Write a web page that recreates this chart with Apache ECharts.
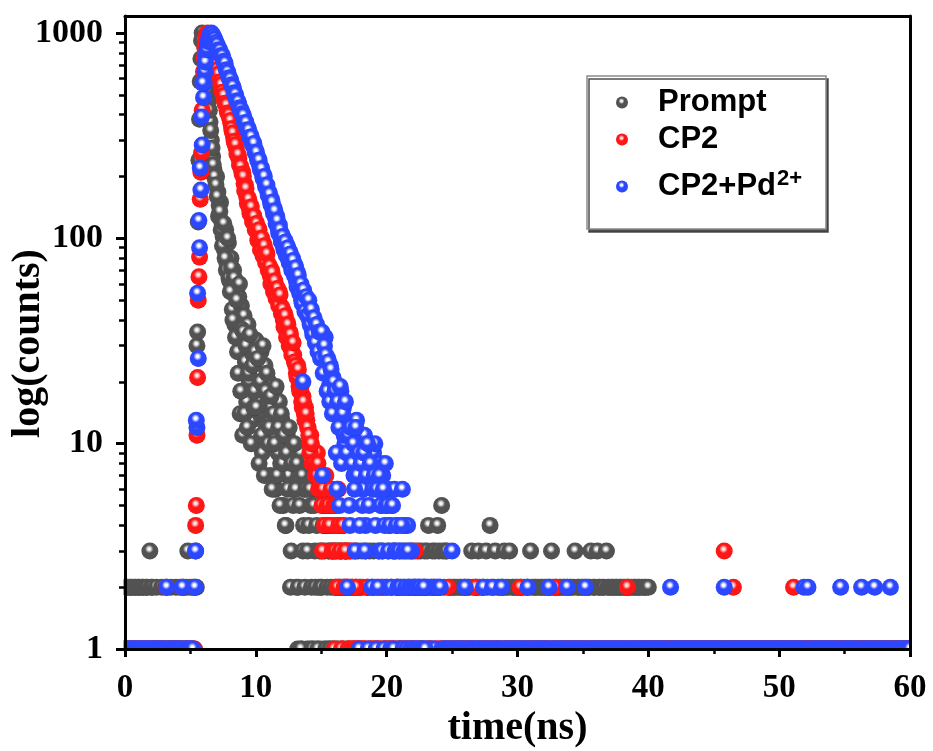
<!DOCTYPE html>
<html>
<head>
<meta charset="utf-8">
<script src="https://cdn.jsdelivr.net/npm/echarts@6/dist/echarts.min.js"></script>
<style>
html,body{margin:0;padding:0;background:#fff;}
#chart{width:933px;height:751px;}
</style>
</head>
<body>
<div id="chart"></div>
<script>
// ---------------- DATA ----------------
// channel width of the TCSPC histograms (ns); channel i sits at t = i * timeStep
const timeStep = 0.1;
// half-channel readings in the decay window start here (t = halfStart + i * timeStep)
const halfStart = 6.05;
const seriesNames = ['Prompt', 'CP2', 'CP2+Pd2+'];

// counts per channel, t = 0.0 ... 60.0 ns (one line = 1 ns)
const promptCounts = [
1,2,2,1,2,2,1,2,2,1,
2,2,1,2,2,1,2,2,1,3,
2,2,1,1,2,1,1,1,2,1,
1,2,1,1,1,2,1,1,1,2,
1,1,2,1,1,2,1,2,3,1,
2,1,2,1,3,30,120,380,750,1000,
960,860,720,590,470,370,300,250,215,195,
200,168,145,150,120,102,88,110,75,95,
62,80,45,70,38,58,28,52,14,47,
11,42,25,16,38,20,30,13,27,18,
32,10,22,14,28,9,19,24,12,17,
20,7,15,11,18,6,13,9,16,8,
13,5,10,4,11,7,10,3,9,6,
9,2,1,7,9,1,3,6,8,1,
7,1,5,1,6,3,1,6,2,1,
3,5,1,4,4,1,3,1,3,1,
3,2,1,3,2,2,3,1,2,3,
2,1,3,2,2,1,3,2,3,1,
2,3,2,1,3,2,2,3,1,2,
3,2,1,2,3,1,2,3,2,1,
2,3,1,2,2,3,1,3,2,2,
1,2,3,2,1,3,2,2,3,1,
3,2,2,1,3,2,3,1,2,3,
2,3,4,1,2,3,2,3,2,4,
3,2,5,3,2,3,3,1,2,2,
1,2,2,1,2,1,2,2,1,2,
2,1,2,2,1,3,2,1,2,2,
3,2,1,2,2,1,3,2,1,4,
2,1,2,3,1,2,2,1,2,2,
3,2,1,2,3,1,2,2,1,2,
2,1,2,2,1,2,1,2,2,1,
3,2,1,2,2,1,2,1,2,2,
1,2,2,1,2,2,3,2,1,2,
2,1,2,2,1,2,2,1,2,1,
2,2,1,2,3,1,2,2,1,2,
2,1,2,1,2,2,3,1,2,2,
1,3,2,2,1,2,2,1,3,2,
2,1,2,2,1,2,2,1,2,2,
1,2,2,1,2,2,1,2,1,2,
2,1,2,2,1,2,1,2,2,1,
2,1,1,1,1,1,1,1,1,1,
1,1,1,1,1,1,1,1,1,1,
1,1,1,1,1,1,1,1,1,1,
1,1,1,1,1,1,1,1,1,1,
1,1,1,1,1,1,1,1,1,1,
1,1,1,1,1,1,1,1,1,1,
1,1,1,1,1,1,1,1,1,1,
1,1,1,1,1,1,1,1,1,1,
1,1,1,1,1,1,1,1,1,1,
1,1,1,1,1,1,1,1,1,1,
1,1,1,1,1,1,1,1,1,1,
1,1,1,1,1,1,1,1,1,1,
1,1,1,1,1,1,1,1,1,1,
1,1,1,1,1,1,1,1,1,1,
1,1,1,1,1,1,1,1,1,1,
1,1,1,1,1,1,1,1,1,1,
1,1,1,1,1,1,1,1,1,1,
1,1,1,1,1,1,1,1,1,1,
1,1,1,1,1,1,1,1,1,1,
1,1,1,1,1,1,1,1,1,1,
1
];
// half-channel counts, t = 6.05 ... 16.95 ns
const promptHalf = [
910,790,650,530,420,335,275,228,200,182,
160,128,135,110,92,118,80,70,100,64,
55,72,40,64,33,50,22,60,18,36,
35,14,30,12,22,34,10,24,15,28,
15,26,8,20,11,30,7,18,22,10,
12,17,6,14,10,19,7,12,5,14,
8,11,4,9,6,12,2,8,5,10,
6,8,2,5,1,7,4,2,6,3,
4,6,2,1,5,2,4,1,3,2,
2,4,3,1,2,3,1,2,3,1,
2,3,1,2,3,1,2,2,3,1
];
// extra points read on the steep rising edge ([time ns, counts])
const promptEdge = [[5.45,2],[5.55,35],[5.65,240],[5.75,580],[5.85,920]];

const cp2Counts = [
1,1,1,1,1,1,1,1,1,1,
1,1,1,1,1,1,1,1,1,1,
1,1,1,1,1,1,1,1,1,1,
1,1,2,1,1,1,1,1,1,1,
1,1,1,1,2,1,1,1,1,1,
1,1,1,1,4,11,50,81,210,420,
650,850,960,1000,960,900,840,790,740,705,
690,650,600,575,530,505,470,455,420,405,
385,360,330,310,290,275,255,245,225,215,
210,185,182,160,158,140,145,128,130,118,
120,108,112,98,100,90,94,82,86,76,
74,66,70,60,63,56,58,52,55,47,
46,40,43,36,39,33,35,29,31,27,
25,22,24,19,20,16,17,14,15,13,
12,10,11,8,9,8,7,9,6,7,
6,3,7,5,6,4,5,6,4,5,
1,4,2,6,4,3,1,4,3,2,
3,1,3,1,3,1,2,1,1,2,
1,1,1,1,1,2,1,1,1,1,
1,1,1,1,1,1,2,1,1,1,
1,1,1,1,1,1,1,1,2,1,
1,1,1,1,1,1,1,1,1,1,
1,1,3,1,1,1,1,1,1,2,
1,1,1,1,1,1,2,1,1,1,
1,1,1,1,1,1,1,2,1,1,
1,1,1,1,1,1,1,1,1,1,
1,1,1,1,1,1,1,1,2,1,
1,1,1,1,1,1,1,1,1,1,
1,1,1,1,1,1,1,1,1,1,
1,1,1,1,1,1,1,1,1,1,
1,1,2,1,1,1,1,1,1,1,
1,1,1,1,1,1,1,1,1,1,
1,1,1,1,1,1,1,1,1,2,
1,1,1,1,1,1,1,1,1,1,
1,1,1,1,1,1,1,1,1,1,
1,1,1,1,1,1,1,1,1,1,
1,1,1,1,1,1,1,1,1,1,
1,1,1,1,1,1,1,1,1,1,
1,1,1,1,2,1,1,1,1,1,
1,1,1,1,1,1,1,1,1,1,
1,1,1,1,1,1,1,1,1,1,
1,1,1,1,1,1,1,1,1,1,
1,1,1,1,1,1,1,1,1,1,
1,1,1,1,1,1,1,1,1,1,
1,1,1,1,1,1,1,1,1,1,
1,1,1,1,1,1,1,1,3,1,
1,1,1,1,1,2,1,1,1,1,
1,1,1,1,1,1,1,1,1,1,
1,1,1,1,1,1,1,1,1,1,
1,1,1,1,1,1,1,1,1,1,
1,1,1,1,1,1,1,1,1,1,
1,2,1,1,1,1,1,1,1,1,
1,1,1,1,1,1,1,1,1,1,
1,1,1,1,1,1,1,1,1,1,
1,1,1,1,1,1,1,1,1,1,
1,1,1,1,1,1,1,1,1,1,
1,1,1,1,1,1,1,1,1,1,
1,1,1,1,1,1,1,1,1,1,
1,1,1,1,1,1,1,1,1,1,
1,1,1,1,1,1,1,1,1,1,
1
];
// half-channel counts, t = 6.05 ... 17.95 ns
const cp2Half = [
760,920,990,985,930,870,815,765,720,698,
662,632,578,560,515,496,455,445,408,398,
375,342,326,296,286,258,256,228,224,206,
200,170,175,148,155,132,142,120,128,110,
118,98,110,88,100,82,92,76,84,70,
73,60,68,55,62,51,57,47,53,43,
45,37,42,33,38,30,34,27,31,25,
24,21,23,18,19,15,16,13,14,12,
11,9,10,8,8,7,7,8,6,6,
5,6,4,7,5,5,4,6,3,5,
3,5,2,4,3,1,4,2,3,2,
1,2,1,2,1,1,2,1,1,1
];
const cp2Edge = [[5.45,5],[5.55,21],[5.65,65],[5.75,155],[5.85,260]];

const cp2PdCounts = [
1,1,1,1,1,1,1,1,1,1,
1,1,1,1,1,1,1,1,1,1,
1,1,1,1,1,1,1,1,1,1,
1,1,2,1,1,1,1,1,1,1,
1,1,1,1,2,1,1,1,1,1,
1,1,1,2,3,12,26,90,172,285,
485,650,780,880,940,985,1000,975,950,915,
885,850,835,795,785,745,725,680,655,625,
598,580,552,535,505,485,462,450,425,418,
402,378,372,348,345,322,318,296,294,275,
268,248,245,224,222,205,204,186,182,170,
168,152,155,138,140,126,128,112,116,102,
104,92,98,84,92,80,86,74,80,70,
74,62,68,56,60,50,20,52,46,49,
48,40,44,36,40,33,37,30,34,29,
31,7,28,33,22,26,19,24,17,21,
20,14,6,17,5,18,12,15,10,13,
2,12,4,11,9,7,3,13,8,1,
10,9,6,11,4,8,1,10,7,2,
9,10,1,6,3,8,5,7,1,8,
2,6,4,1,5,3,6,2,4,1,
3,1,6,2,4,1,4,2,1,3,
2,1,2,1,2,2,1,2,1,2,
1,2,2,1,2,1,2,1,2,2,
2,2,1,1,1,1,1,1,1,1,
3,1,1,1,1,1,1,1,1,1,
2,1,1,1,1,1,1,1,1,1,
1,1,1,1,2,1,1,1,1,1,
1,2,1,1,1,1,1,1,2,1,
1,1,1,1,1,1,1,1,1,1,
1,1,1,1,1,1,1,1,2,1,
1,1,1,1,1,1,1,1,1,1,
1,1,1,1,2,1,1,1,1,1,
1,1,1,1,1,1,1,1,2,1,
1,1,1,1,1,1,1,1,1,1,
1,1,2,1,1,1,1,1,1,1,
1,1,1,1,1,1,1,1,1,1,
1,1,1,1,1,1,1,1,1,1,
1,1,1,1,1,1,1,1,1,1,
1,1,1,1,1,1,1,1,1,1,
1,1,1,1,1,1,1,1,1,1,
1,1,1,1,1,1,1,2,1,1,
1,1,1,1,1,1,1,1,1,1,
1,1,1,1,1,1,1,1,1,1,
1,1,1,1,1,1,1,1,1,1,
1,1,1,1,1,1,1,1,2,1,
1,1,1,1,1,1,1,1,1,1,
1,1,1,1,1,1,1,1,1,1,
1,1,1,1,1,1,1,1,1,1,
1,1,1,1,1,1,1,1,1,1,
1,1,1,1,1,1,1,1,1,1,
1,1,1,1,1,1,1,1,1,2,
1,1,2,1,1,1,1,1,1,1,
1,1,1,1,1,1,1,1,1,1,
1,1,1,1,1,1,1,2,1,1,
1,1,1,1,1,1,1,1,1,1,
1,1,1,2,1,1,1,1,1,1,
1,1,1,2,1,1,1,1,1,1,
1,1,1,1,1,2,1,1,1,1,
1,1,1,1,1,1,1,1,1,1,
1
];
// half-channel counts, t = 6.05 ... 22.95 ns
const cp2PdHalf = [
570,720,830,910,965,995,990,962,935,900,
875,828,820,778,770,728,712,662,645,606,
595,560,548,512,502,468,462,432,424,404,
396,365,366,338,336,310,312,285,290,262,
262,238,240,215,218,196,200,178,182,162,
164,146,150,132,136,118,122,106,110,96,
102,88,96,82,90,76,84,70,78,66,
72,58,66,54,60,48,56,44,52,42,
50,38,45,34,41,31,38,28,35,26,
35,22,30,27,18,25,16,23,14,20,
18,9,16,12,19,8,14,11,16,9,
11,5,12,8,10,6,12,7,9,4,
8,5,9,3,7,10,5,8,2,6,
7,4,6,2,7,5,3,6,4,5,
5,3,4,2,5,1,3,4,2,3,
2,4,1,3,2,1,3,2,1,2,
1,2,1,2,1,2,1,1,2,1
];
const cp2PdEdge = [[5.35,2],[5.45,13],[5.55,54],[5.65,122],[5.75,220],[5.85,390],[5.95,570]];

// axis ticks
const xTicks = [0, 10, 20, 30, 40, 50, 60];
const yMajorTicks = [1, 10, 100, 1000];
const yMinorTicks = [2,3,4,5,6,7,8,9,20,30,40,50,60,70,80,90,200,300,400,500,600,700,800,900];

// ---------------- CHART ----------------
function toPairs(counts, half, edge) {
  const r = v => Math.round(v * 100) / 100;
  const pts = counts.map((c, i) => [r(i * timeStep), c]);
  const hp = half.map((c, i) => [r(halfStart + i * timeStep), c]);
  return pts.concat(hp, edge);
}
function sphere(light, base, dark) {
  return new echarts.graphic.RadialGradient(0.46, 0.38, 0.62, [
    { offset: 0, color: light },
    { offset: 0.12, color: light },
    { offset: 0.4, color: base },
    { offset: 0.9, color: base },
    { offset: 1, color: dark }
  ]);
}
const colors = [
  sphere('#f6f6f6', '#525252', '#3e3e3e'),
  sphere('#ffe0e0', '#ff1616', '#dc0000'),
  sphere('#ffffff', '#2b47ff', '#1f38e0')
];
const dataSets = [
  toPairs(promptCounts, promptHalf, promptEdge),
  toPairs(cp2Counts, cp2Half, cp2Edge),
  toPairs(cp2PdCounts, cp2PdHalf, cp2PdEdge)
];

const serif = '"Liberation Serif", "Times New Roman", serif';
const sans = '"Liberation Sans", Arial, sans-serif';
const legendFont = { fontFamily: sans, fontWeight: 'bold', fontSize: 31, color: '#000', padding: [0, 0, 0, 25] };

const chart = echarts.init(document.getElementById('chart'), null, { renderer: 'canvas' });
const option = {
  animation: false,
  backgroundColor: '#fff',
  grid: { left: 125, right: 23, top: 16, bottom: 102, outerBoundsMode: 'none', containLabel: false },
  xAxis: [{
    type: 'value', min: 0, max: 60, interval: 10, z: 10,
    name: 'time(ns)', nameLocation: 'middle', nameGap: 60, nameMoveOverlap: false,
    nameTextStyle: { fontFamily: serif, fontWeight: 'bold', fontSize: 40, color: '#000' },
    axisLine: { show: true, onZero: false, lineStyle: { color: '#000', width: 3 } },
    axisTick: { show: true, inside: false, length: 8, lineStyle: { color: '#000', width: 3 } },
    minorTick: { show: true, splitNumber: 2, length: 5, lineStyle: { color: '#000', width: 2.5 } },
    axisLabel: { margin: 23, customValues: xTicks, fontFamily: serif, fontWeight: 'bold', fontSize: 33, color: '#000', formatter: v => String(v) },
    splitLine: { show: false }, minorSplitLine: { show: false }
  }, {
    type: 'value', min: 0, max: 60, position: 'top', z: 10,
    axisLine: { show: true, onZero: false, lineStyle: { color: '#000', width: 3 } },
    axisTick: { show: false }, axisLabel: { show: false }, splitLine: { show: false }
  }],
  yAxis: [{
    type: 'log', logBase: 10, min: 1, max: 1210, z: 10,
    name: 'log(counts)', nameLocation: 'middle', nameGap: 76, nameMoveOverlap: false,
    nameTextStyle: { fontFamily: serif, fontWeight: 'bold', fontSize: 40, color: '#000', padding: [0, 22, 0, 0] },
    axisLine: { show: true, onZero: false, lineStyle: { color: '#000', width: 3 } },
    axisTick: { show: true, inside: false, length: 9, customValues: yMajorTicks, lineStyle: { color: '#000', width: 3 } },
    axisLabel: { margin: 22, customValues: yMajorTicks, fontFamily: serif, fontWeight: 'bold', fontSize: 34, color: '#000', formatter: v => String(v) },
    splitLine: { show: false }
  }, {
    type: 'log', logBase: 10, min: 1, max: 1210, position: 'left', offset: 0, z: 10,
    axisLine: { show: false },
    axisTick: { show: true, inside: false, length: 6, customValues: yMinorTicks, lineStyle: { color: '#000', width: 2.5 } },
    axisLabel: { show: false }, splitLine: { show: false }
  }, {
    type: 'value', min: 0, max: 1, position: 'right', offset: 0, z: 10,
    axisLine: { show: true, onZero: false, lineStyle: { color: '#000', width: 3 } },
    axisTick: { show: false }, axisLabel: { show: false }, splitLine: { show: false }
  }],
  legend: [
    { data: [seriesNames[0]], left: 616, top: 87, padding: 0, itemWidth: 12, itemHeight: 12, itemGap: 0, z: 8, textStyle: legendFont, selectedMode: false },
    { data: [seriesNames[1]], left: 616, top: 124, padding: 0, itemWidth: 12, itemHeight: 12, itemGap: 0, z: 8, textStyle: legendFont, selectedMode: false },
    { data: [seriesNames[2]], left: 616, top: 168, padding: 0, itemWidth: 12, itemHeight: 12, itemGap: 0, z: 8, selectedMode: false,
      formatter: () => 'CP2+Pd{sup|2+}',
      textStyle: Object.assign({}, legendFont, { rich: { sup: { fontFamily: sans, fontWeight: 'bold', fontSize: 22, color: '#000', padding: [0, 0, 15, 1] } } }) }
  ],
  graphic: [
    // white masks outside the plotting frame (crop half-outside spheres)
    { type: 'rect', z: 5, silent: true, shape: { x: 0, y: 0, width: 123.5, height: 751 }, style: { fill: '#fff' } },
    { type: 'rect', z: 5, silent: true, shape: { x: 0, y: 650.5, width: 933, height: 101 }, style: { fill: '#fff' } },
    { type: 'rect', z: 5, silent: true, shape: { x: 911.5, y: 0, width: 22, height: 751 }, style: { fill: '#fff' } },
    { type: 'rect', z: 5, silent: true, shape: { x: 0, y: 0, width: 933, height: 14.5 }, style: { fill: '#fff' } },
    // legend frame
    { type: 'rect', z: 6, silent: true, shape: { x: 587, y: 76, width: 239, height: 153 },
      style: { fill: '#fff', stroke: '#8a8a8a', lineWidth: 1.5, shadowColor: 'rgba(60,60,60,0.9)', shadowBlur: 0, shadowOffsetX: 2, shadowOffsetY: 3 } }
  ],
  series: seriesNames.map((name, k) => ({
    name: name,
    type: 'scatter',
    xAxisIndex: 0,
    yAxisIndex: 0,
    symbol: 'circle',
    symbolSize: 17,
    clip: true,
    z: 2 + k,
    itemStyle: { color: colors[k], opacity: 1 },
    emphasis: { disabled: true },
    data: dataSets[k]
  }))
};
chart.setOption(option);
</script>
</body>
</html>
